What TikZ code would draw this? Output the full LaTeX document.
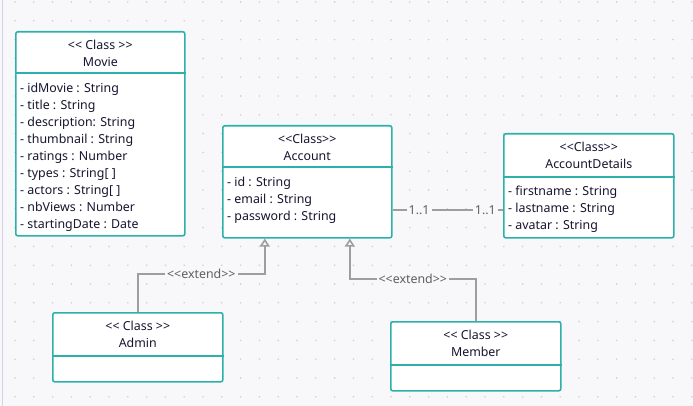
\documentclass[tikz,border=0pt]{standalone}
\usepackage{fontspec}
\setmainfont{Noto Sans}
\usepackage{tikz}
\usetikzlibrary{arrows.meta, calc}
\definecolor{canvas}{RGB}{248,248,250}
\definecolor{griddot}{RGB}{208,208,214}
\definecolor{teal}{RGB}{43,177,170}
\definecolor{ink}{RGB}{22,22,48}
\definecolor{wire}{RGB}{158,158,158}
\definecolor{wiretext}{RGB}{96,96,100}

\begin{document}
\begin{tikzpicture}[x=1pt, y=-1pt, font=\fontsize{12.4}{17}\selectfont,
    classbox/.style={draw=teal, line width=1.6pt, fill=white, rounded corners=2pt,
      inner sep=0pt, anchor=north west},
    header/.style={text=ink, align=center, inner sep=0pt, anchor=north},
    attrs/.style={text=ink, align=left, inner sep=0pt, anchor=north west},
    divider/.style={draw=teal, line width=1.6pt},
    assoc/.style={draw=wire, line width=1.6pt},
    gen/.style={draw=wire, line width=1.6pt, -{Triangle[open, length=8pt, width=10pt, fill=canvas]}},
    multlabel/.style={fill=canvas, text=wiretext, inner sep=2pt},
    extlabel/.style={fill=canvas, text=wiretext, inner sep=2pt}]
    % Canvas with dot grid
    \useasboundingbox (0,0) rectangle (693,406);
    \fill[canvas] (0,0) rectangle (693,406);
    \foreach \i in {0,...,36}
      \foreach \j in {0,...,21}
        \fill[griddot] (15+18.8*\i, 2+18.8*\j) circle (0.9pt);
    \draw[color={rgb,255:red,214;green,210;blue,232}, line width=1.4pt] (2.5,0) -- (2.5,406);

    % Movie
    \node[classbox, minimum width=169pt, minimum height=204pt] (movie) at (15,31) {};
    \draw[divider] ([yshift=-42pt]movie.north west) -- ([yshift=-42pt]movie.north east);
    \node[header] (movieHead) at ([yshift=-9pt]movie.north) {<{}< Class >{}>\\Movie};
    \node[attrs] (movieAttrs) at ([shift={(5pt,-52pt)}]movie.north west)
      {- idMovie : String\\- title : String\\- description: String\\- thumbnail : String\\- ratings : Number\\- types : String[ ]\\- actors : String[ ]\\- nbViews : Number\\- startingDate : Date};

    % Account
    \node[classbox, minimum width=169pt, minimum height=112pt] (account) at (222,125) {};
    \draw[divider] ([yshift=-42pt]account.north west) -- ([yshift=-42pt]account.north east);
    \node[header] (accountHead) at ([yshift=-9pt]account.north) {<{}<Class>{}>\\Account};
    \node[attrs] (accountAttrs) at ([shift={(5pt,-52pt)}]account.north west)
      {- id : String\\- email : String\\- password : String};

    % AccountDetails
    \node[classbox, minimum width=170pt, minimum height=104pt] (details) at (503,133) {};
    \draw[divider] ([yshift=-44pt]details.north west) -- ([yshift=-44pt]details.north east);
    \node[header] (detailsHead) at ([yshift=-9pt]details.north) {<{}<Class>{}>\\AccountDetails};
    \node[attrs] (detailsAttrs) at ([shift={(5pt,-53pt)}]details.north west)
      {- firstname : String\\- lastname : String\\- avatar : String};

    % Admin
    \node[classbox, minimum width=170pt, minimum height=69pt] (admin) at (52,312) {};
    \draw[divider] ([yshift=-44pt]admin.north west) -- ([yshift=-44pt]admin.north east);
    \node[header] (adminHead) at ([yshift=-9pt]admin.north) {<{}< Class >{}>\\Admin};

    % Member
    \node[classbox, minimum width=170pt, minimum height=69pt] (member) at (390,321) {};
    \draw[divider] ([yshift=-44pt]member.north west) -- ([yshift=-44pt]member.north east);
    \node[header] (memberHead) at ([yshift=-9pt]member.north) {<{}< Class >{}>\\Member};

    % Association Account -- AccountDetails
    \coordinate (assocRow) at (0,210);
    \draw[assoc] (account.east |- assocRow) -- node[multlabel, pos=0.24] {1..1}
      node[multlabel, pos=0.84] {1..1} (details.west |- assocRow);

    % Generalisations
    \coordinate (accLeft) at ([xshift=-42.5pt]account.south);
    \coordinate (accRight) at ([xshift=42.5pt]account.south);
    \coordinate (adminRow) at (0,274);
    \coordinate (memberRow) at (0,279);
    \draw[gen] (admin.north) -- (admin.north |- adminRow)
      -- node[extlabel] {<{}<extend>{}>} (accLeft |- adminRow) -- (accLeft);
    \draw[gen] (member.north) -- (member.north |- memberRow)
      -- node[extlabel] {<{}<extend>{}>} (accRight |- memberRow) -- (accRight);
\end{tikzpicture}
\end{document}
